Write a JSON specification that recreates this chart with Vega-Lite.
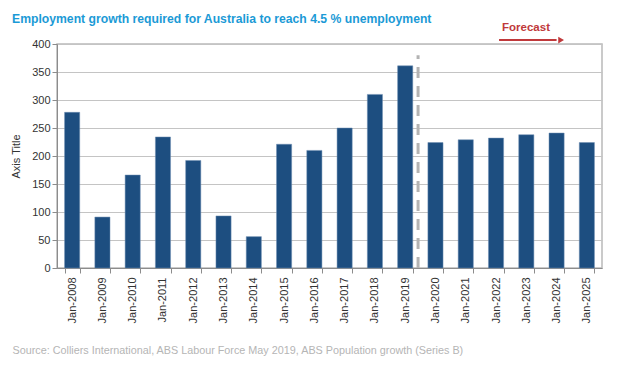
{
  "$schema": "https://vega.github.io/schema/vega-lite/v6.json",
  "width": 545,
  "height": 224,
  "autosize": "none",
  "padding": {"left": 57, "top": 44, "right": 16, "bottom": 102},
  "background": "white",
  "config": {
    "font": "Liberation Sans",
    "view": {"stroke": "#b9b9b9", "strokeWidth": 1.5},
    "axisY": {
      "tickCount": 8,
      "labelOverlap": false,
      "labelFont": "Liberation Sans",
      "labelFontSize": 11,
      "labelColor": "#333333",
      "domainColor": "#8c8c8c",
      "tickColor": "#8c8c8c",
      "tickSize": 5,
      "gridColor": "#c4c4c4",
      "gridWidth": 1,
      "titleFont": "Liberation Sans",
      "titleFontSize": 11,
      "titleFontWeight": "normal",
      "titleColor": "#333333",
      "titlePadding": 10
    },
    "axisX": {
      "labelAngle": -90,
      "labelFont": "Liberation Sans",
      "labelFontSize": 11,
      "labelColor": "#333333",
      "labelPadding": 4,
      "domainColor": "#8c8c8c",
      "tickColor": "#8c8c8c",
      "tickBand": "extent",
      "tickSize": 5,
      "grid": false
    }
  },
  "title": {
    "text": "Employment growth required for Australia to reach 4.5 % unemployment",
    "anchor": "start",
    "frame": "group",
    "dx": -45,
    "offset": -3,
    "fontSize": 12.2,
    "fontWeight": "bold",
    "color": "#1b9ad6",
    "font": "Liberation Sans"
  },
  "layer": [
    {
      "data": {
        "values": [
          {"year": "Jan-2008", "value": 278},
          {"year": "Jan-2009", "value": 91},
          {"year": "Jan-2010", "value": 166},
          {"year": "Jan-2011", "value": 234},
          {"year": "Jan-2012", "value": 192},
          {"year": "Jan-2013", "value": 93},
          {"year": "Jan-2014", "value": 56},
          {"year": "Jan-2015", "value": 221},
          {"year": "Jan-2016", "value": 210},
          {"year": "Jan-2017", "value": 250},
          {"year": "Jan-2018", "value": 310},
          {"year": "Jan-2019", "value": 361},
          {"year": "Jan-2020", "value": 224},
          {"year": "Jan-2021", "value": 229},
          {"year": "Jan-2022", "value": 232},
          {"year": "Jan-2023", "value": 238},
          {"year": "Jan-2024", "value": 241},
          {"year": "Jan-2025", "value": 224}
        ]
      },
      "mark": {"type": "bar", "color": "#1d4e80", "stroke": "#6f8fb3", "strokeWidth": 0.5},
      "encoding": {
        "x": {
          "field": "year",
          "type": "ordinal",
          "scale": {"paddingInner": 0.5, "paddingOuter": 0.25},
          "axis": {
            "title": "Source: Colliers International, ABS Labour Force May 2019, ABS Population growth (Series B)",
            "titleAnchor": "start",
            "titleAlign": "left",
            "titleX": -45,
            "titleY": 85,
            "titleBaseline": "alphabetic",
            "titleFont": "Liberation Sans",
            "titleFontSize": 10.8,
            "titleFontWeight": "normal",
            "titleColor": "#b5b5b5"
          }
        },
        "y": {
          "field": "value",
          "type": "quantitative",
          "scale": {"domain": [0, 400], "nice": false},
          "axis": {"title": "Axis Title"}
        }
      }
    },
    {
      "data": {"values": [{"year": "Jan-2019", "value": 0, "value2": 380}]},
      "mark": {"type": "rule", "color": "#b3b3b3", "strokeWidth": 3, "strokeDash": [11, 8]},
      "encoding": {
        "x": {"field": "year", "type": "ordinal", "bandPosition": 1.35},
        "y": {"field": "value", "type": "quantitative"},
        "y2": {"field": "value2"}
      }
    },
    {
      "data": {"values": [{"year": "Jan-2022", "value": 429, "label": "Forecast"}]},
      "mark": {"type": "text", "align": "left", "baseline": "middle", "color": "#c0393b", "fontSize": 11.5, "fontWeight": "bold", "font": "Liberation Sans", "dx": 3},
      "encoding": {
        "x": {"field": "year", "type": "ordinal", "bandPosition": 0.7},
        "y": {"field": "value", "type": "quantitative"},
        "text": {"field": "label"}
      }
    },
    {
      "data": {"values": [{"year": "Jan-2022", "year2": "Jan-2024", "value": 407}]},
      "mark": {"type": "rule", "color": "#c0393b", "strokeWidth": 2},
      "encoding": {
        "x": {"field": "year", "type": "ordinal", "bandPosition": 0.7},
        "x2": {"field": "year2"},
        "y": {"field": "value", "type": "quantitative"}
      }
    },
    {
      "data": {"values": [{"year": "Jan-2024", "value": 407}]},
      "mark": {"type": "point", "shape": "triangle-right", "filled": true, "color": "#c0393b", "size": 45, "opacity": 1},
      "encoding": {
        "x": {"field": "year", "type": "ordinal", "bandPosition": 0.8},
        "y": {"field": "value", "type": "quantitative"}
      }
    }
  ]
}
